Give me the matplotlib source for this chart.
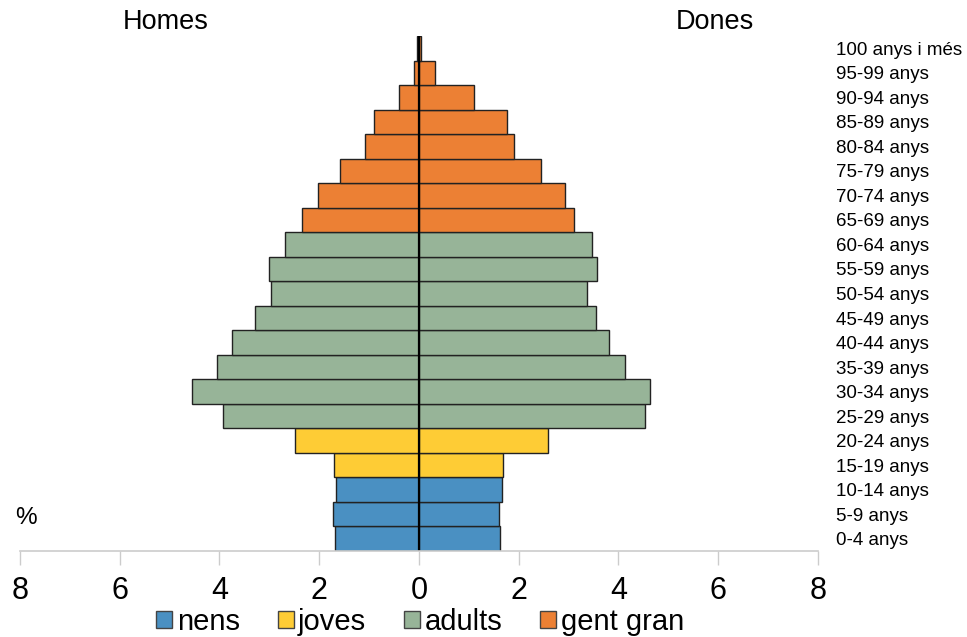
import matplotlib
matplotlib.use("Agg")
import matplotlib.pyplot as plt
from matplotlib.ticker import FuncFormatter
from matplotlib.patches import Patch

# grups d'edat, de baix a dalt
grups = ["0-4 anys", "5-9 anys", "10-14 anys", "15-19 anys", "20-24 anys",
         "25-29 anys", "30-34 anys", "35-39 anys", "40-44 anys", "45-49 anys",
         "50-54 anys", "55-59 anys", "60-64 anys", "65-69 anys", "70-74 anys",
         "75-79 anys", "80-84 anys", "85-89 anys", "90-94 anys", "95-99 anys",
         "100 anys i més"]

homes = [1.68, 1.73, 1.66, 1.70, 2.49, 3.92, 4.56, 4.04, 3.75, 3.29,
         2.96, 3.01, 2.69, 2.35, 2.02, 1.59, 1.08, 0.91, 0.39, 0.09, 0.03]
dones = [1.62, 1.60, 1.66, 1.68, 2.58, 4.54, 4.64, 4.13, 3.81, 3.56,
         3.38, 3.57, 3.48, 3.11, 2.93, 2.44, 1.91, 1.76, 1.11, 0.33, 0.05]

# categoria de cada grup
categoria = ["nens"] * 3 + ["joves"] * 2 + ["adults"] * 8 + ["gent gran"] * 8
categories = ["nens", "joves", "adults", "gent gran"]
colors = {"nens": "#4A90C2", "joves": "#FECC35",
          "adults": "#97B498", "gent gran": "#EC8034"}

plt.rcParams["font.family"] = ["Liberation Sans", "DejaVu Sans"]

fig = plt.figure(figsize=(9.67, 6.37), dpi=100)
ax = fig.add_axes([0.0207, 0.135, 0.825, 0.8085])

y = list(range(len(grups)))
cols = [colors[c] for c in categoria]
ax.barh(y, [-v for v in homes], height=1.0, color=cols,
        edgecolor="#222222", linewidth=1.0)
ax.barh(y, dones, height=1.0, color=cols,
        edgecolor="#222222", linewidth=1.0)
ax.plot([0, 0], [-0.5, len(grups) - 0.5], color="black", lw=1.6)

ax.set_xlim(-8, 8)
ax.set_ylim(-0.5, len(grups) - 0.5)
ax.set_xticks(range(-8, 9, 2))
ax.xaxis.set_major_formatter(FuncFormatter(lambda v, p: f"{abs(int(v))}"))
ax.tick_params(axis="x", length=10, width=1, color="#cccccc",
               labelsize=22, pad=8)

ax.yaxis.tick_right()
ax.set_yticks(y)
ax.set_yticklabels(grups)
ax.tick_params(axis="y", length=0, labelsize=13.5, pad=13)

for s in ["left", "right", "top"]:
    ax.spines[s].set_visible(False)
ax.spines["bottom"].set_color("#cccccc")
ax.spines["bottom"].set_linewidth(1.2)

fig.text(166 / 967, 1 - 22 / 637, "Homes", fontsize=19.5, ha="center", va="center")
fig.text(715 / 967, 1 - 22 / 637, "Dones", fontsize=19.5, ha="center", va="center")
fig.text(15 / 967, 1 - 518 / 637, "%", fontsize=17.5, ha="left", va="center")

handles = [Patch(facecolor=colors[c], edgecolor="#444444", label=c)
           for c in categories]
fig.legend(handles=handles, loc="center", bbox_to_anchor=(420 / 967, 1 - 622 / 637),
           ncol=4, frameon=False, prop={"size": 21},
           handlelength=0.55, handleheight=0.55, handletextpad=0.15,
           columnspacing=1.3, borderaxespad=0)

fig.savefig("out.png", dpi=100, facecolor="white")
